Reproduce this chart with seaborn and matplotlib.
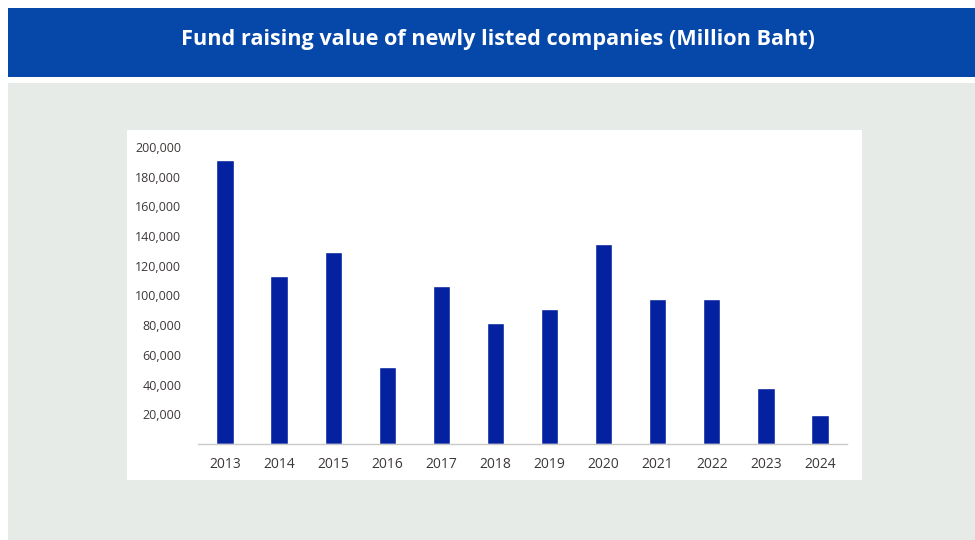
import matplotlib
matplotlib.use("Agg")
import matplotlib.pyplot as plt
from matplotlib.patches import Rectangle
from matplotlib.ticker import FuncFormatter
import seaborn as sns
import pandas as pd

years = ["2013", "2014", "2015", "2016", "2017", "2018",
         "2019", "2020", "2021", "2022", "2023", "2024"]
fund_raising = [191000, 113200, 129300, 52000, 106300, 81600,
                90600, 135000, 97700, 97700, 37500, 19500]
y_ticks = [20000, 40000, 60000, 80000, 100000, 120000,
           140000, 160000, 180000, 200000]
title = "Fund raising value of newly listed companies (Million Baht)"

df = pd.DataFrame({"year": years, "value": fund_raising})

sns.set_theme(style="white")
plt.rcParams["font.family"] = ["Open Sans", "DejaVu Sans"]

W, H = 975, 540
fig = plt.figure(figsize=(W / 100, H / 100), dpi=100)
fig.patch.set_facecolor("white")


def px_rect(x0, y0, x1, y1, color, z):
    fig.patches.append(Rectangle((x0 / W, 1 - y1 / H), (x1 - x0) / W, (y1 - y0) / H,
                                 transform=fig.transFigure, facecolor=color,
                                 edgecolor="none", zorder=z))


# header banner, grey backdrop and white chart card
px_rect(8, 8, 975, 77, "#0648aa", 0)
px_rect(8, 83, 975, 540, "#e7ebe7", 0)
px_rect(127, 130, 862, 480, "white", 1)

fig.text(498 / W, 1 - 40 / H, title, ha="center", va="center",
         color="white", fontsize=15.6, fontweight="bold",
         family=["Open Sans", "DejaVu Sans"])

left, right, top, bottom = 198, 847, 147, 444
ax = fig.add_axes([left / W, 1 - bottom / H, (right - left) / W, (bottom - top) / H])
ax.set_facecolor("none")
ax.set_zorder(2)

sns.barplot(data=df, x="year", y="value", color="#0421a0", width=0.32,
            saturation=1, ax=ax)

ax.set_xlim(-0.5, len(years) - 0.5)
ax.set_ylim(0, 200000)
ax.set_yticks(y_ticks)
ax.yaxis.set_major_formatter(FuncFormatter(lambda v, p: f"{int(v):,}"))
ax.set_xlabel("")
ax.set_ylabel("")

for s in ["left", "right", "top"]:
    ax.spines[s].set_visible(False)
ax.spines["bottom"].set_color("#c9c9c9")
ax.spines["bottom"].set_linewidth(1.0)

ax.tick_params(axis="y", length=0, pad=12, labelsize=9, labelcolor="#3d3838")
ax.tick_params(axis="x", length=0, pad=9, labelsize=10, labelcolor="#3d3838")

fig.savefig("out.png", dpi=100)
